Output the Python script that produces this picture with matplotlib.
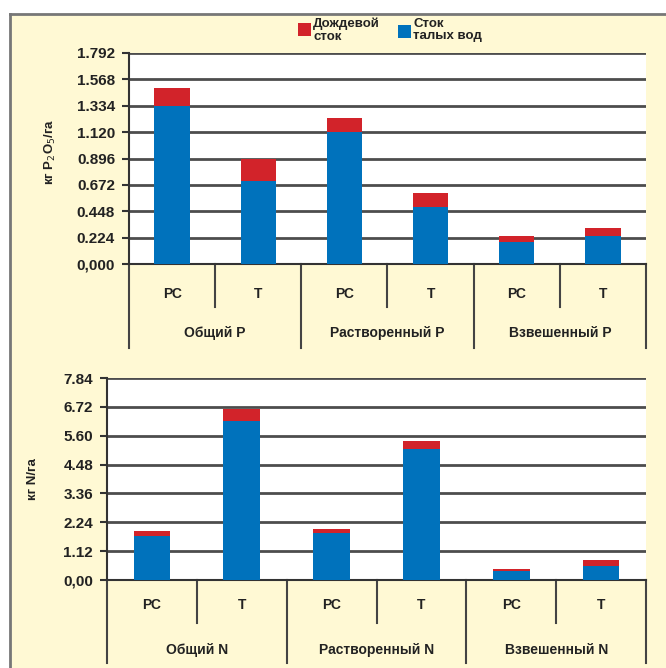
import matplotlib
matplotlib.use("Agg")
import matplotlib.pyplot as plt
from matplotlib.patches import Rectangle
import numpy as np

plt.rcParams['font.family'] = ['Liberation Sans', 'DejaVu Sans']

# data
sub_labels = ['РС', 'Т', 'РС', 'Т', 'РС', 'Т']
p_groups = ['Общий P', 'Растворенный P', 'Взвешенный P']
n_groups = ['Общий N', 'Растворенный N', 'Взвешенный N']

p_snow = [1.34, 0.708, 1.117, 0.482, 0.187, 0.238]
p_total = [1.496, 0.892, 1.243, 0.606, 0.238, 0.307]
n_snow = [1.69, 6.17, 1.83, 5.08, 0.34, 0.56]
n_total = [1.89, 6.62, 1.97, 5.38, 0.44, 0.78]

p_ticklabels = ['0,000', '0.224', '0.448', '0.672', '0.896', '1.120', '1.334', '1.568', '1.792']
n_ticklabels = ['0,00', '1.12', '2.24', '3.36', '4.48', '5.60', '6.72', '7.84']
p_step = 0.224
n_step = 1.12

legend_labels = ['Дождевой\nсток', 'Сток\nталых вод']

red = '#D2232A'
blue = '#0072BC'
yellow = '#FFF9D4'
grid_c = '#4d4d4d'
txt_c = '#222222'

fig = plt.figure(figsize=(6.66, 6.68), dpi=100)
fig.patch.set_facecolor('white')

# yellow panel with a gray border on left and top
W, H = 666, 668
fig.patches.append(Rectangle((10 / W, 0), 1 - 10 / W, 1 - 14 / H, transform=fig.transFigure,
                             facecolor=yellow, edgecolor='none', zorder=-2))
fig.add_artist(plt.Line2D([10 / W, 1], [1 - 14 / H] * 2, transform=fig.transFigure, color='#777777', lw=2))
fig.add_artist(plt.Line2D([10 / W] * 2, [0, 1 - 14 / H], transform=fig.transFigure, color='#777777', lw=2))


def draw(ax, snow, total, groups, ticklabels, step, ylabel, sub_y, grp_y, sub_line, grp_line):
    x = np.arange(len(snow))
    rain = np.array(total) - np.array(snow)
    ax.set_facecolor('white')
    ax.bar(x, snow, width=0.41, color=blue, zorder=3)
    ax.bar(x, rain, width=0.41, bottom=snow, color=red, zorder=3)
    ax.set_xlim(-0.5, len(snow) - 0.5)
    ax.set_ylim(0, step * (len(ticklabels) - 1))
    ticks = [step * i for i in range(len(ticklabels))]
    ax.set_yticks(ticks)
    ax.set_yticklabels(ticklabels, fontsize=11, fontweight='bold', color=txt_c)
    for t in ticks[1:]:
        ax.axhline(t, color=grid_c, lw=2, zorder=1)
    ax.set_xticks([])
    for s in ['top', 'right']:
        ax.spines[s].set_visible(False)
    ax.spines['left'].set_color('#333333')
    ax.spines['left'].set_linewidth(1.5)
    ax.spines['bottom'].set_color('#333333')
    ax.spines['bottom'].set_linewidth(1.5)
    ax.tick_params(axis='y', length=5, width=1.5, color='#333333', pad=5)
    ax.set_ylabel(ylabel, fontsize=9.5, fontweight='bold', color=txt_c)

    # two-level category table below the axis
    tr = ax.get_xaxis_transform()
    for b in np.arange(-0.5, len(snow), 1.0):
        long_line = (b + 0.5) % 2 == 0
        ax.plot([b, b], [0, grp_line if long_line else sub_line], transform=tr,
                color='#444444', lw=1.5, clip_on=False)
    for i, lab in enumerate(sub_labels):
        ax.text(i, sub_y, lab, transform=tr, ha='center', va='center',
                fontsize=10, fontweight='bold', color=txt_c)
    for g, lab in enumerate(groups):
        ax.text(2 * g + 0.5, grp_y, lab, transform=tr, ha='center', va='center',
                fontsize=10, fontweight='bold', color=txt_c)


ax1 = fig.add_axes([129 / W, 1 - 264.3 / H, (646 - 129) / W, 211.6 / H])
draw(ax1, p_snow, p_total, p_groups, p_ticklabels, p_step, 'кг P$_2$O$_5$/га',
     -0.14, -0.325, -0.202, -0.395)
ax1.yaxis.set_label_coords(-0.137, 0.53)

ax2 = fig.add_axes([107 / W, 1 - 580 / H, (646 - 107) / W, 202 / H])
draw(ax2, n_snow, n_total, n_groups, n_ticklabels, n_step, 'кг N/га',
     -0.124, -0.347, -0.213, -0.411)
ax2.yaxis.set_label_coords(-0.127, 0.5)

# legend: colour square + two-line text
for (sx, sy, tx), col, lab in zip([(298, 23, 313), (398, 25, 413)], [red, blue], legend_labels):
    fig.patches.append(Rectangle((sx / W, 1 - (sy + 13) / H), 13 / W, 13 / H,
                                 transform=fig.transFigure, facecolor=col, edgecolor='none'))
    fig.text(tx / W, 1 - 18 / H, lab, ha='left', va='top', fontsize=9.5, fontweight='bold',
             color=txt_c, linespacing=1.05)

fig.savefig('out.png', dpi=100, facecolor='white')
